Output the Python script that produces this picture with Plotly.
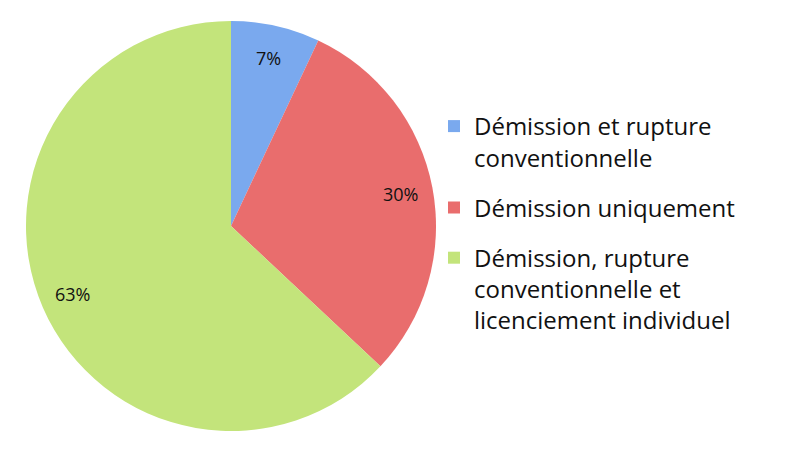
import math
import plotly.graph_objects as go

labels = ["Démission et rupture<br>conventionnelle",
          "Démission uniquement",
          "Démission, rupture<br>conventionnelle et<br>licenciement individuel"]
values = [7, 30, 63]
text_labels = ["7%", "30%", "63%"]
colors = ["#7aa9ee", "#e96d6d", "#c3e47b"]

W, H = 790, 459
CX, CY, R = 231, 226, 205   # pie centre and radius in pixels

fig = go.Figure(go.Pie(
    labels=labels, values=values,
    textinfo="none",
    sort=False, direction="clockwise", rotation=0,
    marker=dict(colors=colors, line=dict(width=0)),
    domain=dict(x=[(CX - R) / W, (CX + R) / W], y=[1 - (CY + R) / H, 1 - (CY - R) / H]),
    hoverinfo="label+percent",
    showlegend=False,
))

# legend entries as separate groups so the gap between them can be set
for lab, col in zip(labels, colors):
    fig.add_trace(go.Scatter(
        x=[None], y=[None], mode="markers", name=lab, legendgroup=lab,
        marker=dict(symbol="square", size=15, color=col),
    ))

# percentage labels placed along each slice's mid-angle
total = sum(values)
cum = 0
annotations = []
for v, t in zip(values, text_labels):
    theta = 2 * math.pi * (cum + v / 2) / total
    cum += v
    annotations.append(dict(
        x=(CX + 0.84 * R * math.sin(theta)) / W,
        y=1 - (CY - 0.84 * R * math.cos(theta)) / H,
        xref="paper", yref="paper", xanchor="center", yanchor="middle",
        text=t, showarrow=False,
        font=dict(family="Open Sans", size=18, color="#111111"),
    ))

fig.update_layout(
    width=W, height=H,
    margin=dict(l=0, r=0, t=0, b=0),
    paper_bgcolor="white", plot_bgcolor="white",
    font=dict(family="Open Sans", color="#111111"),
    xaxis=dict(visible=False), yaxis=dict(visible=False),
    annotations=annotations,
    legend=dict(x=434 / W, y=1 - 104 / H, xanchor="left", yanchor="top",
                bgcolor="rgba(0,0,0,0)",
                font=dict(family="Open Sans", size=24, color="#111111"),
                valign="top", tracegroupgap=16, itemsizing="constant"),
)
fig.write_html("out.html", config={"displayModeBar": False},
               post_script="document.body.style.margin='0';")
